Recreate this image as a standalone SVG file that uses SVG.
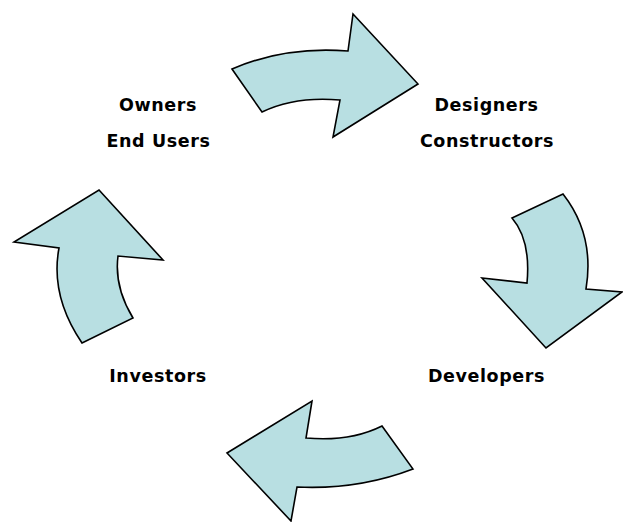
<svg xmlns="http://www.w3.org/2000/svg" width="623" height="522" viewBox="0 0 623 522">
  <style>
    .arrow { fill: #B8DFE2; stroke: #000; stroke-width: 1.6; stroke-linejoin: miter; }
    .label { font-family: "DejaVu Sans", Verdana, sans-serif; font-weight: bold; font-size: 17.5px; letter-spacing: 0.6px; fill: #000; text-anchor: middle; }
  </style>
  <rect width="623" height="522" fill="#fff"/>

  <g id="connectors">
    <path id="arrow-top" class="arrow" d="M232,69 Q285,46 348,51 L353,14 L418,84 L333,137 L340,100 Q295,96 262,112 Z"/>
    <path id="arrow-right" class="arrow" d="M512,218 L563,194 Q595,235 586,289 L622,292 L546,348 L482,278 L527,283 Q531,240 512,218 Z"/>
    <path id="arrow-bottom" class="arrow" d="M382,426 L413,469 Q358,490 297,487 L291,521 L227,453 L312,401 L306,438 Q350,442 382,426 Z"/>
    <path id="arrow-left" class="arrow" d="M82,343 L133,318 Q114,287 118,256 L163,260 L99,190 L14,242 L59,248 Q50,296 82,343 Z"/>
  </g>

  <g id="owners">
    <text class="label" x="158" y="111">Owners</text>
    <text class="label" x="158.5" y="147">End Users</text>
  </g>
  <g id="designers">
    <text class="label" x="486.5" y="111">Designers</text>
    <text class="label" x="487" y="147">Constructors</text>
  </g>
  <g id="developers">
    <text class="label" x="486.5" y="382">Developers</text>
  </g>
  <g id="investors">
    <text class="label" x="158" y="382">Investors</text>
  </g>
</svg>
